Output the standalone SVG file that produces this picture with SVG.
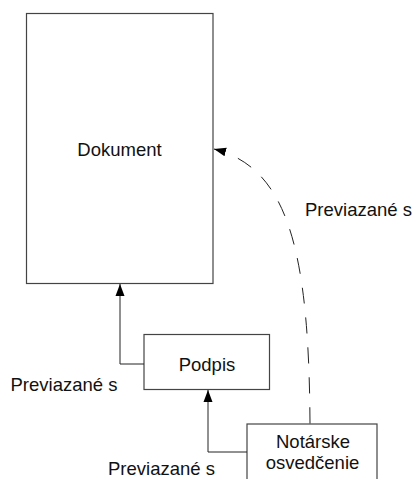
<svg xmlns="http://www.w3.org/2000/svg" width="415" height="479" viewBox="0 0 415 479">
<defs>
<style>
.box{fill:#fff;stroke:#444;stroke-width:1.2}
.t{font-family:"Liberation Sans",Arial,sans-serif;font-size:18.5px;fill:#111}
.c{fill:none;stroke:#222;stroke-width:1}
.d{stroke-dasharray:16 14}
</style>
<marker id="ah" markerUnits="userSpaceOnUse" markerWidth="14" markerHeight="12" refX="12" refY="5" orient="auto">
<path d="M0,0.5 L12,5 L0,9.5 Z" fill="#000"/>
</marker>
</defs>
<rect width="415" height="479" fill="#fff"/>
<g id="dokument">
<rect class="box" x="26.5" y="13.5" width="186.5" height="270"/>
<text class="t" x="119.5" y="156" text-anchor="middle">Dokument</text>
</g>
<g id="podpis">
<rect class="box" x="144" y="334.5" width="125.5" height="55"/>
<text class="t" x="207" y="371" text-anchor="middle">Podpis</text>
</g>
<g id="notarske">
<rect class="box" x="247" y="424" width="130" height="70"/>
<text class="t" x="313" y="448" text-anchor="middle">Notárske</text>
<text class="t" x="312.5" y="469" text-anchor="middle">osvedčenie</text>
</g>
<g id="connectors">
<path class="c" d="M144,364 H120 V284" marker-end="url(#ah)"/>
<path class="c" d="M247,452 H208 V390" marker-end="url(#ah)"/>
<path class="c d" d="M310,423.5 C309,250 288,168 214,149" marker-end="url(#ah)"/>
<text class="t" x="305" y="215.5">Previazané s</text>
<text class="t" x="10.5" y="391">Previazané s</text>
<text class="t" x="108" y="475">Previazané s</text>
</g>
</svg>
